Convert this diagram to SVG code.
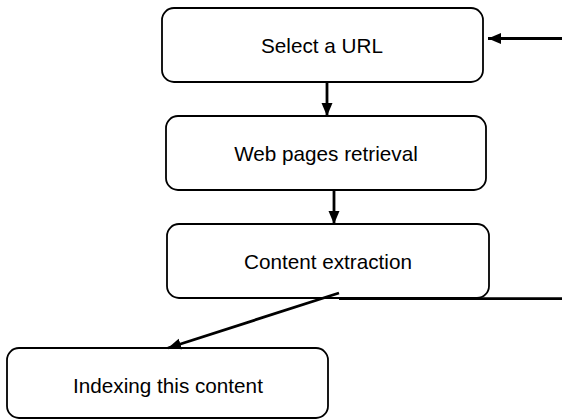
<svg xmlns="http://www.w3.org/2000/svg" width="562" height="420" viewBox="0 0 562 420">
<style>
.box{fill:#fff;stroke:#000;stroke-width:1.8}
.lbl{font-family:"Liberation Sans",Arial,sans-serif;font-size:20.7px;fill:#000;text-anchor:middle}
.con{fill:none;stroke:#000;stroke-width:2.8}
</style>
<defs>
<marker id="ah" markerUnits="userSpaceOnUse" markerWidth="14" markerHeight="12" refX="13" refY="6" orient="auto">
<path d="M0,0.5 L13,6 L0,11.5 Z" fill="#000"/>
</marker>
</defs>
<rect width="562" height="420" fill="#fff"/>
<g id="n1"><rect class="box" x="162" y="8" width="321" height="74" rx="12"/><text class="lbl" x="322" y="53">Select a URL</text></g>
<g id="n2"><rect class="box" x="166" y="116" width="320" height="74" rx="12"/><text class="lbl" x="326" y="160.5">Web pages retrieval</text></g>
<g id="n3"><rect class="box" x="167" y="224" width="322" height="74" rx="12"/><text class="lbl" x="328" y="269">Content extraction</text></g>
<g id="n4"><rect class="box" x="7" y="348" width="321" height="70" rx="12"/><text class="lbl" x="168" y="393">Indexing this content</text></g>
<g id="connectors">
<line class="con" x1="327" y1="82" x2="327" y2="116" marker-end="url(#ah)"/>
<line class="con" x1="334" y1="190" x2="334" y2="224" marker-end="url(#ah)"/>
<line class="con" x1="562" y1="38.5" x2="488" y2="38.5" marker-end="url(#ah)"/>
<line class="con" x1="339" y1="298.7" x2="562" y2="298.7"/>
<line class="con" x1="339" y1="293" x2="168" y2="348" marker-end="url(#ah)"/>
</g>
</svg>
